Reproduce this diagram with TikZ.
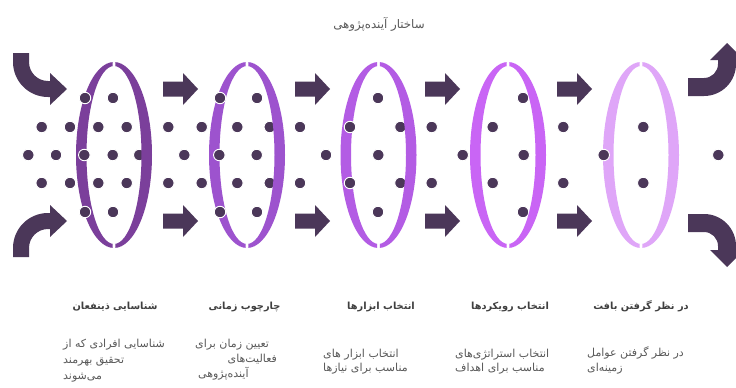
\documentclass[tikz,border=0pt]{standalone}
\usepackage{fontspec}
\newfontfamily\fa[Script=Arabic]{DejaVu Sans}
\TeXXeTstate=1
\definecolor{dotc}{HTML}{4B3759}
\definecolor{ringA}{HTML}{7B3F9B}
\definecolor{ringB}{HTML}{9D53CE}
\definecolor{ringC}{HTML}{B35CE4}
\definecolor{ringD}{HTML}{C965F5}
\definecolor{ringE}{HTML}{DFA6F8}
\definecolor{txtgray}{HTML}{595959}
\definecolor{headgray}{HTML}{3F3F3F}
\tikzset{
  dotnode/.style={circle,fill=dotc,draw=white,line width=0.9pt,inner sep=0pt,minimum size=11.5pt},
  heading/.style={font=\fa\bfseries\fontsize{9.8}{12}\selectfont,text=headgray,inner sep=0pt,anchor=base},
  body/.style={font=\fa\fontsize{11}{13}\selectfont,text=txtgray,inner sep=0pt},
  blockarrow/.pic={\fill[dotc] (0,-7.5) -- (20,-7.5) -- (20,-16) -- (35,0) -- (20,16) -- (20,7.5) -- (0,7.5) -- cycle;}
}
\newcommand{\halfring}[3]{% center x, colour, side (-1 left, 1 right)
  \begin{scope}
    \ifnum#3<0 \clip (#1-50,40) rectangle (#1-1.3,270);
    \else \clip (#1+1.3,40) rectangle (#1+50,270); \fi
    \fill[#2,even odd rule] (#1,155) ellipse [x radius=38, y radius=93]
                            (#1,155) ellipse [x radius=27.5, y radius=89];
  \end{scope}}
\begin{document}
\begin{tikzpicture}[x=1pt,y=-1pt]
\useasboundingbox (0,0) rectangle (736,388);
\fill[white] (0,0) rectangle (736,388);
% title
\node[font=\fa\fontsize{11.8}{14}\selectfont,text=txtgray,inner sep=0pt,anchor=base] (title) at (379,28) {\beginR ساختار آینده‌پژوهی\endR};
% curved arrows
\fill[dotc] (13,53) -- (29,53) -- (29,62) arc[start angle=180,end angle=90,radius=19] -- (50,81) -- (50,73) -- (67,89) -- (50,105) -- (50,97) -- (48,97) arc[start angle=90,end angle=180,radius=35] -- cycle;
\fill[dotc] (13,257) -- (29,257) -- (29,248) arc[start angle=180,end angle=270,radius=19] -- (50,229) -- (50,237) -- (67,221) -- (50,205) -- (50,213) -- (48,213) arc[start angle=270,end angle=180,radius=35] -- cycle;
\fill[dotc] (688,78) -- (704,78) arc[start angle=90,end angle=0,radius=14] -- (718,60) -- (710,60) -- (727,43) -- (744,60) -- (736,60) -- (736,64) arc[start angle=0,end angle=90,radius=32] -- (688,96) -- cycle;
\fill[dotc] (688,232) -- (704,232) arc[start angle=270,end angle=360,radius=14] -- (718,250) -- (710,250) -- (727,267) -- (744,250) -- (736,250) -- (736,246) arc[start angle=360,end angle=270,radius=32] -- (688,214) -- cycle;
% straight arrows
\foreach \x in {163,295,425,557}{
  \pic at (\x,89) {blockarrow};
  \pic at (\x,221) {blockarrow};
}
% left halves of rings
\halfring{114}{ringA}{-1}
\halfring{247}{ringB}{-1}
\halfring{378.5}{ringC}{-1}
\halfring{508}{ringD}{-1}
\halfring{641}{ringE}{-1}
% dots
\foreach \x [count=\i] in {85,113,220,257,378,523}{
  \node[dotnode] (da\i) at (\x,98) {};
  \node[dotnode] (de\i) at (\x,212) {};
}
\foreach \x [count=\i] in {41.7,70,98.3,126.7,168.3,201.7,237.3,269.8,300,350,400.5,431.7,492.7,563.3,643.3}{
  \node[dotnode] (db\i) at (\x,127) {};
  \node[dotnode] (dd\i) at (\x,183) {};
}
\foreach \x [count=\i] in {28.3,56,84.3,112.7,139.3,184.3,219.3,256.7,326,378.3,462.7,523.7,603.7,718.3}{
  \node[dotnode] (dc\i) at (\x,155) {};
}
% right halves of rings
\halfring{114}{ringA}{1}
\halfring{247}{ringB}{1}
\halfring{378.5}{ringC}{1}
\halfring{508}{ringD}{1}
\halfring{641}{ringE}{1}
% headings
\node[heading] (h1) at (115,309) {\beginR شناسایی ذینفعان\endR};
\node[heading] (h2) at (244.5,309) {\beginR چارچوب زمانی\endR};
\node[heading] (h3) at (381,309) {\beginR انتخاب ابزارها\endR};
\node[heading] (h4) at (510,309) {\beginR انتخاب رویکردها\endR};
\node[heading] (h5) at (641,309) {\beginR در نظر گرفتن بافت\endR};
% body texts
\node[body,anchor=base west] (b11) at (63,347) {\beginR شناسایی افرادی که از\endR};
\node[body,anchor=base west] (b12) at (63,363) {\beginR تحقیق بهرمند\endR};
\node[body,anchor=base west] (b13) at (63,379) {\beginR می‌شوند\endR};
\node[body,anchor=base west] (b21) at (195,347) {\beginR تعیین زمان برای\endR};
\node[body,anchor=base east] (b22) at (277,362) {\beginR فعالیت‌های\endR};
\node[body,anchor=base west] (b23) at (198,377) {\beginR آینده‌پژوهی\endR};
\node[body,anchor=base west] (b31) at (323,357) {\beginR انتخاب ابزار های\endR};
\node[body,anchor=base west] (b32) at (323,371) {\beginR مناسب برای نیازها\endR};
\node[body,anchor=base west] (b41) at (455,357) {\beginR انتخاب استراتژی‌های\endR};
\node[body,anchor=base west] (b42) at (455,371) {\beginR مناسب برای اهداف\endR};
\node[body,anchor=base west] (b51) at (587,356) {\beginR در نظر گرفتن عوامل\endR};
\node[body,anchor=base west] (b52) at (587,371) {\beginR زمینه‌ای\endR};
\end{tikzpicture}
\end{document}
